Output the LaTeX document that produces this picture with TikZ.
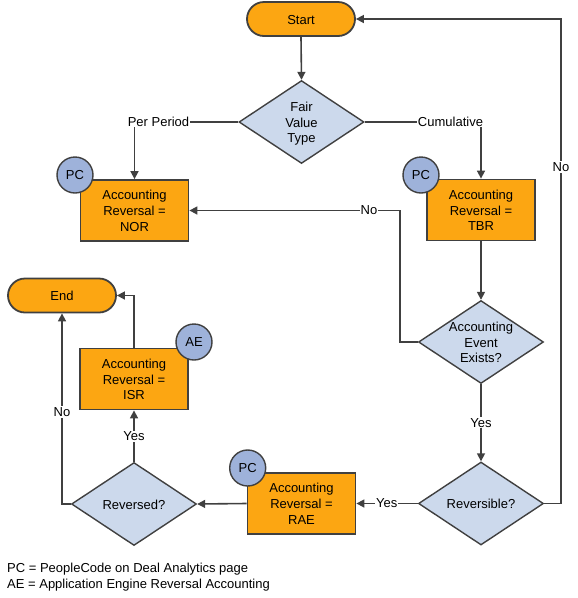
\documentclass[tikz,border=0pt]{standalone}
\usepackage{fontspec}
\setmainfont{Liberation Sans}
\usetikzlibrary{shapes.geometric,arrows.meta}
\definecolor{orng}{RGB}{252,166,18}
\definecolor{dia}{RGB}{204,217,236}
\definecolor{circ}{RGB}{158,178,218}
\definecolor{lc}{RGB}{64,64,64}
\newcommand\ztext[1]{\makebox[0pt]{\raisebox{\dimexpr 0.5\depth-0.5\height-2pt\relax}[0pt][0pt]{\begin{tabular}{@{}c@{}}#1\end{tabular}}}}
\tikzset{
  base/.style={font=\fontsize{13}{15.7}\selectfont, text=black},
  proc/.style={base, rectangle, draw=lc, line width=1.8pt, fill=orng, minimum width=108pt, minimum height=61pt, inner sep=0pt},
  term/.style={proc, rounded corners=17pt, minimum height=34pt},
  dec/.style={base, diamond, draw=lc, line width=1.4pt, fill=dia, minimum width=125pt, minimum height=83pt, inner sep=0pt},
  tag/.style={base, circle, draw=lc, line width=1.4pt, fill=circ, minimum size=36pt, inner sep=0pt},
  conn/.style={draw=lc, line width=1.6pt, -{Triangle[length=8pt,width=8pt]}},
  lbl/.style={base, fill=white, inner sep=1pt},
}
\begin{document}
\begin{tikzpicture}[x=1pt,y=-1pt]
\useasboundingbox (0,0) rectangle (578,598);
% nodes
\node[term] (start) at (301,19) {\ztext{Start}};
\node[dec] (fvt) at (301.5,122) {\ztext{Fair\\Value\\Type}};
\node[proc] (nor) at (134.5,210.5) {\ztext{Accounting\\Reversal =\\NOR}};
\node[proc] (tbr) at (481,210) {\ztext{Accounting\\Reversal =\\TBR}};
\node[dec] (aee) at (481,342) {\ztext{Accounting\\Event\\Exists?}};
\node[dec] (rev) at (481,503.5) {\ztext{Reversible?}};
\node[proc] (rae) at (301.5,503.5) {\ztext{Accounting\\Reversal =\\RAE}};
\node[dec] (rvd) at (134,504) {\ztext{Reversed?}};
\node[proc] (isr) at (134,379) {\ztext{Accounting\\Reversal =\\ISR}};
\node[term] (end) at (62,295.5) {\ztext{End}};
\node[tag] (pc1) at (75,175) {PC};
\node[tag] (pc2) at (421,175) {PC};
\node[tag] (pc3) at (247.7,468) {PC};
\node[tag] (ae) at (194,342) {AE};
% connectors
\draw[conn] (start.south) -- (fvt.north);
\draw[conn] (fvt.west) -| (nor.north);
\node[lbl] (pp) at (158.5,121.7) {Per Period};
\draw[conn] (fvt.east) -| (tbr.north);
\node[lbl] (cu) at (450.5,121.7) {Cumulative};
\draw[conn] (tbr.south) -- (aee.north);
\draw[conn] (aee.west) -- ++(-18,0) |- (nor.east);
\node[lbl] (no1) at (369,210) {No};
\draw[conn] (aee.south) -- node[lbl] (yes1) {Yes} (rev.north);
\draw[conn] (rev.east) -- (561,503.5) |- (start.east);
\node[lbl] (no2) at (561,167) {No};
\draw[conn] (rev.west) -- (rae.east);
\node[lbl] (yes2) at (386.7,503.5) {Yes};
\draw[conn] (rae.west) -- (rvd.east);
\draw[conn] (rvd.north) -- node[lbl] (yes3) {Yes} (isr.south);
\draw[conn] (isr.north) |- (end.east);
\draw[conn] (rvd.west) -| (end.south);
\node[lbl] (no3) at (62,412) {No};
% legend
\node[base, anchor=base west, inner sep=0pt] (leg1) at (7,572) {PC = PeopleCode on Deal Analytics page};
\node[base, anchor=base west, inner sep=0pt] (leg2) at (7,588) {AE = Application Engine Reversal Accounting};
\end{tikzpicture}
\end{document}
